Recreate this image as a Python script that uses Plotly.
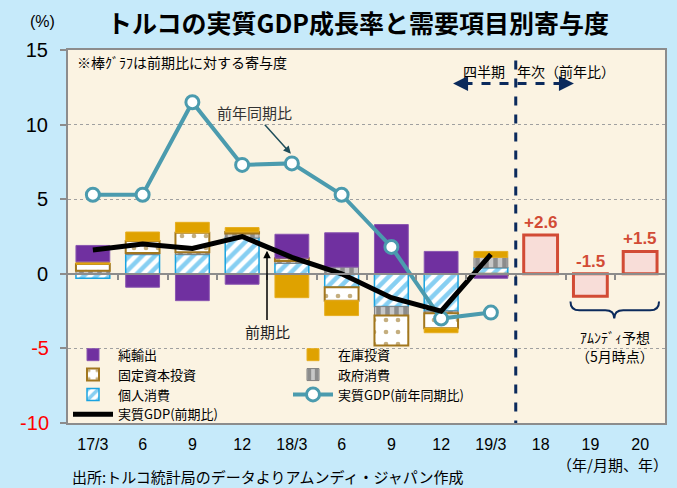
import plotly.graph_objects as go

# ---- data ----
tick_labels = ["17/3", "6", "9", "12", "18/3", "6", "9", "12", "19/3", "18", "19", "20"]
quarter_count = 9
personal = [-0.3, 1.3, 1.3, 2.4, 0.7, -0.9, -2.2, -2.5, 0.4]
government = [0.2, 0.1, 0.15, 0.3, 0.15, 0.45, -0.6, -0.15, 0.7]
fixed_inv = [0.45, 0.8, 1.3, 0.1, 0.2, -0.9, -2.0, -1.0, -0.1]
inventory = [0.15, 0.6, 0.7, 0.3, -1.6, -1.0, 0.0, -0.3, 0.4]
net_exports = [1.1, -0.9, -1.8, -0.7, 1.6, 2.3, 3.3, 1.5, -0.2]
gdp_qoq = [1.6, 2.0, 1.7, 2.5, 1.1, 0.0, -1.6, -2.5, 1.3]
gdp_yoy = [5.3, 5.3, 11.5, 7.3, 7.4, 5.3, 1.8, -3.0, -2.6]
forecast = [2.6, -1.5, 1.5]
forecast_labels = ["+2.6", "-1.5", "+1.5"]
y_ticks_black = [15, 10, 5, 0]
y_ticks_red = [-5, -10]

xq = list(range(quarter_count))
xa = list(range(quarter_count, quarter_count + len(forecast)))

W, H = 677, 488
ML, MR, MT, MB = 68, 12, 50, 65
FONT = "Liberation Sans, Noto Sans CJK JP, sans-serif"
JFONT = "Noto Sans CJK JP, Liberation Sans, sans-serif"
NAVY = "#0B2A5C"
RED = "#D24B35"
BW = 0.68

fig = go.Figure()

fig.add_trace(go.Bar(
    x=xq, y=personal, name="個人消費", width=BW, legendrank=5,
    marker=dict(color="white", line=dict(color="#1AA3E0", width=1.5),
                pattern=dict(shape="/", fgcolor="#10A0E6", bgcolor="white",
                             size=9, solidity=0.5))))
fig.add_trace(go.Bar(
    x=xq, y=government, name="政府消費", width=BW, legendrank=4,
    marker=dict(color="#BFBFBF", line=dict(color="#808080", width=1),
                pattern=dict(shape="|", fgcolor="#505050", bgcolor="#C8C8C8",
                             size=9, solidity=0.5))))
fig.add_trace(go.Bar(
    x=xq, y=fixed_inv, name="固定資本投資", width=BW, legendrank=3,
    marker=dict(color="white", line=dict(color="#A2771E", width=2),
                pattern=dict(shape=".", fgcolor="#8A5E00", bgcolor="white",
                             size=12, solidity=0.12))))
fig.add_trace(go.Bar(
    x=xq, y=inventory, name="在庫投資", width=BW, legendrank=2,
    marker=dict(color="#DFA200", line=dict(color="#E6AE20", width=1))))
fig.add_trace(go.Bar(
    x=xq, y=net_exports, name="純輸出", width=BW, legendrank=1,
    marker=dict(color="#7030A0", line=dict(color="#8A56B0", width=1))))
fig.add_trace(go.Bar(
    x=xa, y=forecast, name="アムンディ予想", width=BW, showlegend=False,
    marker=dict(color="#F8DDD8", line=dict(color=RED, width=3))))

fig.add_trace(go.Scatter(
    x=xq, y=gdp_yoy, name="実質GDP(前年同期比)", mode="lines+markers", legendrank=6,
    line=dict(color="#4B9BAE", width=4),
    marker=dict(symbol="circle", size=13, color="white",
                line=dict(color="#4B9BAE", width=3))))
fig.add_trace(go.Scatter(
    x=xq, y=gdp_qoq, name="実質GDP(前期比)", mode="lines", legendrank=7,
    line=dict(color="black", width=5)))

# helper traces so the overlay axes are drawn
fig.add_trace(go.Scatter(x=[None], y=[None], xaxis="x2", showlegend=False,
                         hoverinfo="skip"))
fig.add_trace(go.Scatter(x=[None], y=[None], yaxis="y2", showlegend=False,
                         hoverinfo="skip"))

yr = [-10, 15]
fig.update_layout(
    width=W, height=H,
    margin=dict(l=ML, r=MR, t=MT, b=MB, autoexpand=False),
    paper_bgcolor="#C6EAFA",
    plot_bgcolor="#FBF3E2",
    barmode="relative",
    font=dict(family=FONT, size=14, color="black"),
    showlegend=True,
    legend=dict(orientation="h", x=0.0, y=-0.018, xanchor="left", yanchor="bottom",
                bgcolor="rgba(0,0,0,0)", entrywidth=165, traceorder="normal",
                font=dict(family=JFONT, size=13), itemwidth=40,
                tracegroupgap=0),
    xaxis=dict(range=[-0.5, len(tick_labels) - 0.5], automargin=False,
               tickvals=list(range(len(tick_labels))), ticktext=tick_labels,
               ticks="", showgrid=False, zeroline=False,
               showline=True, mirror=True, linecolor="#8C8C8C", linewidth=2,
               tickfont=dict(family=FONT, size=16), ticklabelstandoff=6),
    xaxis2=dict(overlaying="x", anchor="free", position=(0 - yr[0]) / (yr[1] - yr[0]),
                side="bottom", range=[-0.5, len(tick_labels) - 0.5], automargin=False,
                tickvals=[i + 0.5 for i in range(len(tick_labels) - 1)],
                ticks="outside", ticklen=5, tickwidth=1.5, tickcolor="#8C8C8C",
                showticklabels=False, showgrid=False, zeroline=False,
                showline=True, linecolor="#8C8C8C", linewidth=2),
    yaxis=dict(range=yr, tickvals=y_ticks_black + y_ticks_red, automargin=False,
               ticktext=[str(v) for v in y_ticks_black] + [""] * len(y_ticks_red),
               ticks="outside", ticklen=6, tickcolor="#8C8C8C", tickwidth=2,
               showgrid=True, gridcolor="#A0A0A0", griddash="dot", gridwidth=1,
               zeroline=False,
               showline=True, mirror=True, linecolor="#8C8C8C", linewidth=2,
               tickfont=dict(family=FONT, size=20), ticklabelstandoff=8),
    yaxis2=dict(range=yr, overlaying="y", side="left", automargin=False,
                tickvals=y_ticks_red, ticktext=[str(v) for v in y_ticks_red],
                ticks="outside", ticklen=6, tickcolor="#8C8C8C", tickwidth=2,
                showgrid=False, zeroline=False, showline=False,
                tickfont=dict(family=FONT, size=20, color="#FF0000"),
                ticklabelstandoff=8),
)

# divider between quarterly and annual
div_x = quarter_count - 0.5
fig.add_shape(type="line", xref="x", yref="y", x0=div_x, x1=div_x, y0=14.3, y1=-10,
              line=dict(color=NAVY, width=3, dash="dash"))
fig.add_shape(type="line", xref="x", yref="y", x0=7.45, x1=9.45, y0=12.75, y1=12.75,
              line=dict(color=NAVY, width=3, dash="dash"))
for hx, tx in [(7.24, 7.6), (9.67, 9.3)]:
    fig.add_annotation(x=hx, y=12.75, ax=tx, ay=12.75, xref="x", yref="y",
                       axref="x", ayref="y", text="", showarrow=True,
                       arrowhead=2, arrowsize=1, arrowwidth=3, arrowcolor=NAVY)

# bracket under forecast bars
fig.add_shape(type="path", xref="x", yref="y",
              path="M 9.6,-1.85 Q 9.6,-2.45 9.78,-2.45 L 10.3,-2.45 "
                   "Q 10.48,-2.45 10.48,-3.0 Q 10.48,-2.45 10.66,-2.45 "
                   "L 11.2,-2.45 Q 11.38,-2.45 11.38,-1.85",
              line=dict(color=NAVY, width=2))


def px_note(px, py, text, size=14, family=JFONT, xanchor="center", color="black"):
    """Place a text note at a pixel position of the figure."""
    fig.add_annotation(x=(px - ML) / (W - ML - MR), y=(H - MB - py) / (H - MT - MB),
                       xref="paper", yref="paper", text=text, showarrow=False,
                       xanchor=xanchor, yanchor="middle",
                       font=dict(family=family, size=size, color=color))


px_note(358, 22, "<b>トルコの実質GDP成長率と需要項目別寄与度</b>", size=25)
px_note(42, 22, "(%)", size=16, family=FONT)
px_note(75, 62, "※棒ｸﾞﾗﾌは前期比に対する寄与度", size=14, xanchor="left")
px_note(484, 71, "四半期", size=14)
px_note(566, 71, "年次（前年比）", size=14)
px_note(615, 337, "ｱﾑﾝﾃﾞｨ予想", size=14)
px_note(615, 356, "（5月時点）", size=14)
px_note(70, 476, "出所:トルコ統計局のデータよりアムンディ・ジャパン作成", size=15, xanchor="left")
px_note(670, 464, "（年/月期、年）", size=15, xanchor="right")

# forecast value labels
for xv, v, lab in zip(xa, forecast, forecast_labels):
    fig.add_annotation(x=xv, y=max(v, 0), text="<b>" + lab + "</b>", showarrow=False,
                       yanchor="bottom", yshift=1,
                       font=dict(family=FONT, size=17, color=RED))

# callouts
fig.add_annotation(x=3.98, y=8.05, ax=3.24, ay=10.8, axref="x", ayref="y",
                   xref="x", yref="y", text="前年同期比", showarrow=True,
                   arrowhead=2, arrowwidth=1.5, arrowsize=1, arrowcolor="#1F4E5A",
                   font=dict(family=JFONT, size=15, color="#333333"))
fig.add_annotation(x=3.5, y=1.55, ax=3.5, ay=-3.9, axref="x", ayref="y",
                   xref="x", yref="y", text="前期比", showarrow=True,
                   arrowhead=2, arrowwidth=1.5, arrowsize=1, arrowcolor="black",
                   font=dict(family=JFONT, size=15, color="#222222"))

fig.write_html("out.html", config={"displayModeBar": False},
               post_script="document.body.style.margin='0';document.body.style.overflow='hidden';")
